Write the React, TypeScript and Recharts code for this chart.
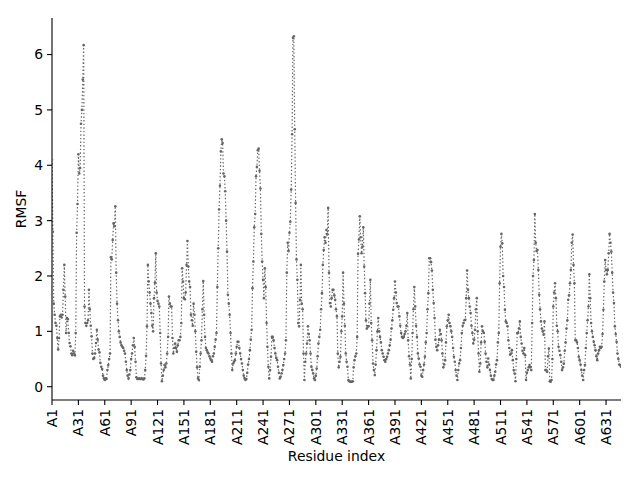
import React from "react";
import { LineChart, Line, XAxis, YAxis, Label } from "recharts";

const rmsf: number[] = [
  4.1, 2.8, 1.5, 1.3, 1.15, 1.1, 0.88, 0.67, 0.88, 1.27,
  1.3, 1.25, 1.3, 1.75, 2.2, 1.63, 0.97, 1.24, 1.22, 0.97,
  0.79, 0.73, 0.6, 0.57, 0.65, 0.6, 0.57, 0.97, 2.78, 3.3,
  4.2, 3.85, 3.95, 4.75, 5.0, 5.55, 6.17, 1.45, 1.15, 1.1,
  1.15, 1.2, 1.75, 1.4, 1.1, 0.91, 0.6, 0.5, 0.52, 0.6,
  0.79, 1.03, 0.85, 0.67, 0.62, 0.43, 0.36, 0.32, 0.2, 0.15,
  0.12, 0.15, 0.14, 0.3, 0.39, 0.5, 0.6, 2.34, 2.3, 2.65,
  2.95, 2.9, 3.26, 2.06, 1.5, 1.2, 1.0, 0.9, 0.8, 0.75,
  0.72, 0.7, 0.65, 0.6, 0.45, 0.3, 0.2, 0.15, 0.22, 0.3,
  0.5, 0.6, 0.75, 0.88, 0.72, 0.45, 0.17, 0.14, 0.14, 0.15,
  0.14, 0.14, 0.15, 0.14, 0.13, 0.15, 0.3, 0.56, 1.09, 2.2,
  1.9, 1.7, 1.5, 1.33, 1.1, 1.0, 1.6, 1.88, 2.41, 1.7,
  1.55, 1.5, 1.45, 0.97, 0.42, 0.1, 0.2, 0.3, 0.39, 0.35,
  0.42, 0.6, 0.9, 1.63, 1.5, 1.45, 1.45, 0.88, 0.6, 0.7,
  0.78, 0.7, 0.63, 0.75, 0.84, 0.84, 0.9, 1.15, 2.14, 1.9,
  1.6, 1.58, 1.7, 2.2, 2.63, 2.17, 1.9, 1.8, 1.3, 1.2,
  1.1, 1.5, 1.3, 1.0, 0.63, 0.35, 0.15, 0.12, 0.36, 0.6,
  0.84, 1.4, 1.91, 1.3, 0.9, 0.7, 0.66, 0.62, 0.6, 0.55,
  0.51, 0.48, 0.45, 0.55, 0.6, 0.72, 0.85, 0.97, 1.8, 2.5,
  3.2, 3.63, 4.25, 4.47, 4.4, 3.85, 3.8, 3.53, 3.0, 2.44,
  1.66, 1.5, 1.3, 0.97, 0.6, 0.3, 0.42, 0.45, 0.48, 0.6,
  0.72, 0.81, 0.81, 0.7, 0.6, 0.5, 0.42, 0.3, 0.2, 0.15,
  0.12, 0.14, 0.25, 0.4, 0.5, 0.66, 0.85, 1.03, 1.78, 2.26,
  2.88, 3.12, 3.8, 3.97, 4.27, 4.3, 3.9, 3.58, 2.76, 2.26,
  1.93, 1.6, 2.14, 1.8, 1.15, 0.72, 0.36, 0.15, 0.3, 0.54,
  0.9, 0.9, 0.84, 0.7, 0.6, 0.52, 0.48, 0.36, 0.25, 0.15,
  0.18, 0.24, 0.3, 0.39, 0.5, 0.6, 0.84, 2.06, 2.6, 2.45,
  2.78, 2.98, 3.56, 4.56, 6.3, 6.33, 4.65, 3.32, 2.3, 1.93,
  1.15, 1.09, 1.57, 2.2, 1.5, 1.4, 0.6, 0.12, 0.45, 0.6,
  0.78, 1.09, 0.95, 0.84, 0.6, 0.36, 0.3, 0.24, 0.15, 0.12,
  0.2, 0.33, 0.55, 0.78, 0.9, 1.03, 1.4, 1.69, 2.2, 2.47,
  2.7, 2.6, 2.83, 2.75, 3.23, 2.06, 1.51, 1.45, 1.6, 1.75,
  1.75, 1.65, 1.57, 1.4, 1.27, 0.6, 0.35, 0.45, 0.54, 1.0,
  1.27, 2.06, 1.5, 1.1, 0.6, 0.45, 0.36, 0.12, 0.1, 0.09,
  0.09, 0.09, 0.1, 0.35, 0.48, 0.55, 0.6, 0.9, 2.4, 2.66,
  3.08, 2.7, 2.41, 2.53, 2.88, 2.17, 1.69, 1.2, 1.05, 1.09,
  1.09, 1.5, 1.93, 1.15, 0.84, 0.42, 0.3, 0.21, 0.4, 0.66,
  1.0, 1.24, 1.0, 0.9, 0.8, 0.66, 0.6, 0.54, 0.48, 0.45,
  0.5, 0.54, 0.6, 0.66, 0.75, 0.85, 1.05, 1.2, 1.39, 1.6,
  1.9, 1.7, 1.51, 1.45, 1.45, 1.27, 1.1, 0.97, 0.9, 0.88,
  0.9, 0.95, 1.0, 1.1, 1.33, 0.84, 0.55, 0.4, 0.15, 0.5,
  0.97, 1.4, 1.8, 1.45, 1.1, 0.9, 0.6, 0.51, 0.4, 0.36,
  0.2, 0.18, 0.3, 0.4, 0.54, 0.8, 0.97, 1.4, 1.69, 2.32,
  2.32, 2.25, 2.1, 1.75, 1.51, 1.24, 0.85, 0.72, 0.66, 0.75,
  0.85, 1.03, 0.95, 0.84, 0.6, 0.35, 0.4, 0.48, 0.8, 1.09,
  1.2, 1.3, 1.15, 1.09, 1.0, 0.9, 0.7, 0.54, 0.45, 0.3,
  0.2, 0.12, 0.3, 0.42, 0.48, 0.7, 0.97, 1.1, 1.15, 1.2,
  1.21, 1.6, 2.1, 1.75, 1.6, 1.45, 1.33, 1.1, 0.97, 0.78,
  0.85, 1.03, 1.4, 1.6, 1.0, 0.6, 0.27, 0.42, 0.8, 1.09,
  1.0, 0.97, 0.81, 0.6, 0.45, 0.35, 0.51, 0.4, 0.3, 0.2,
  0.14, 0.12, 0.12, 0.2, 0.27, 0.4, 0.48, 0.8, 0.97, 1.87,
  2.53, 2.76, 2.59, 2.0, 1.8, 1.39, 1.18, 1.15, 1.09, 0.84,
  0.7, 0.58, 0.6, 0.66, 0.48, 0.3, 0.24, 0.1, 0.5, 0.97,
  0.97, 1.05, 1.18, 0.9, 0.78, 0.65, 0.6, 0.7, 0.57, 0.12,
  0.25, 0.3, 0.35, 0.39, 0.35, 0.3, 1.15, 2.0, 2.29, 3.12,
  2.6, 2.45, 2.47, 2.11, 1.66, 1.4, 1.18, 1.05, 1.0, 0.94,
  1.18, 0.3, 0.3, 0.27, 0.55, 0.69, 0.1, 0.09, 0.12, 0.5,
  1.45, 1.7, 1.87, 1.6, 1.1, 1.0, 0.72, 0.65, 0.57, 0.45,
  0.3, 0.35, 0.42, 0.65, 0.8, 1.05, 1.2, 1.57, 1.65, 1.87,
  2.11, 2.6, 2.75, 2.2, 1.87, 0.84, 0.84, 0.8, 0.7, 0.54,
  0.48, 0.4, 0.3, 0.2, 0.12, 0.3, 0.39, 0.7, 0.97, 1.2,
  1.45, 2.03, 1.6, 1.15, 1.0, 0.9, 0.81, 0.75, 0.66, 0.55,
  0.48, 0.6, 0.66, 0.72, 0.7, 0.72, 0.95, 1.39, 1.9, 2.29,
  2.11, 2.03, 2.11, 2.41, 2.76, 2.6, 2.44, 2.06, 1.7, 1.51,
  1.09, 0.95, 0.81, 0.6, 0.5, 0.4, 0.39, 0.36,
];

const residues: number[] = rmsf.map((_, i) => i + 1);

const xTickResidues: number[] = [1, 31, 61, 91, 121, 151, 181, 211, 241, 271, 301, 331, 361, 391, 421, 451, 481, 511, 541, 571, 601, 631];
const xTickLabels: string[] = ["A1", "A31", "A61", "A91", "A121", "A151", "A181", "A211", "A241", "A271", "A301", "A331", "A361", "A391", "A421", "A451", "A481", "A511", "A541", "A571", "A601", "A631"];
const yTicks: number[] = [0, 1, 2, 3, 4, 5, 6];

const data = residues.map((r, i) => ({ res: r, rmsf: rmsf[i] }));

const FONT = "'DejaVu Sans', sans-serif";
const FS = 13.9;
const X_DOMAIN: [number, number] = [1, residues.length];
const Y_DOMAIN: [number, number] = [-0.24, 6.66];

const XTick = (props: any) => {
  const { x, y, payload } = props;
  const idx = xTickResidues.indexOf(payload.value);
  const label = idx >= 0 ? xTickLabels[idx] : String(payload.value);
  return (
    <text
      x={x}
      y={y}
      transform={`rotate(-90 ${x} ${y})`}
      textAnchor="end"
      dominantBaseline="central"
      fontFamily={FONT}
      fontSize={FS}
      fill="#000"
    >
      {label}
    </text>
  );
};

export default function App() {
  return (
    <div style={{ position: "absolute", left: 0, top: 0, width: 640, height: 480, background: "#fff" }}>
      <LineChart
        width={640}
        height={480}
        data={data}
        margin={{ top: 18, right: 19, bottom: 10, left: 10 }}
      >
        <XAxis
          xAxisId="main"
          dataKey="res"
          type="number"
          domain={X_DOMAIN}
          ticks={xTickResidues}
          interval={0}
          tick={<XTick />}
          tickSize={5}
          tickMargin={4}
          height={70}
          axisLine={{ stroke: "#000", strokeWidth: 1.1 }}
          tickLine={{ stroke: "#000", strokeWidth: 1.1 }}
          allowDataOverflow
        >
          <Label
            value="Residue index"
            position="insideBottom"
            offset={9}
            style={{ fontFamily: FONT, fontSize: FS, fill: "#000" }}
          />
        </XAxis>
        <XAxis
          xAxisId="top"
          orientation="top"
          dataKey="res"
          type="number"
          domain={X_DOMAIN}
          height={0}
          tick={false}
          tickLine={false}
          axisLine={{ stroke: "#000", strokeWidth: 1.1 }}
          allowDataOverflow
        />
        <YAxis
          yAxisId="main"
          type="number"
          domain={Y_DOMAIN}
          ticks={yTicks}
          interval={0}
          width={42}
          tickSize={5}
          tickMargin={4}
          tick={{ fontFamily: FONT, fontSize: FS, fill: "#000" }}
          axisLine={{ stroke: "#000", strokeWidth: 1.1 }}
          tickLine={{ stroke: "#000", strokeWidth: 1.1 }}
          allowDataOverflow
        >
          <Label
            content={() => (
              <text
                x={21}
                y={209}
                transform="rotate(-90 21 209)"
                textAnchor="middle"
                dominantBaseline="central"
                fontFamily={FONT}
                fontSize={FS}
                fill="#000"
              >
                RMSF
              </text>
            )}
          />
        </YAxis>
        <YAxis
          yAxisId="right"
          orientation="right"
          type="number"
          domain={Y_DOMAIN}
          width={0}
          tick={false}
          tickLine={false}
          axisLine={{ stroke: "#000", strokeWidth: 1.1 }}
          allowDataOverflow
        />
        <Line
          xAxisId="main"
          yAxisId="main"
          type="linear"
          dataKey="rmsf"
          stroke="#666666"
          strokeWidth={1.2}
          strokeDasharray="1.4 2.2"
          dot={{ r: 1.3, fill: "#666666", stroke: "none" }}
          activeDot={false}
          isAnimationActive={false}
        />
      </LineChart>
    </div>
  );
}
